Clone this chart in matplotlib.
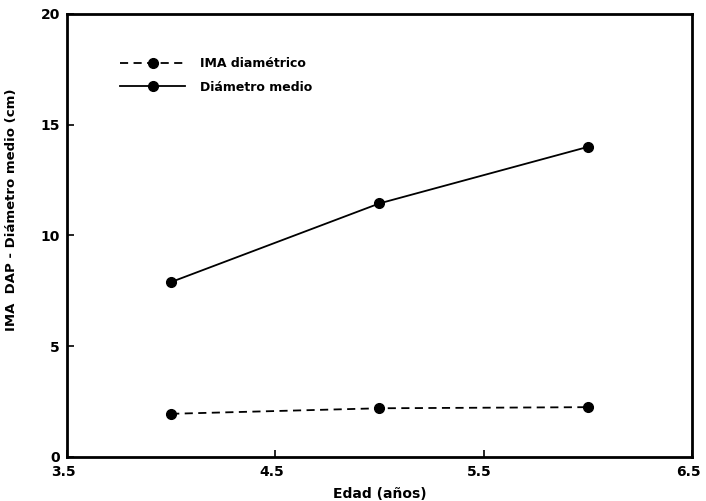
import matplotlib
matplotlib.use("Agg")
import matplotlib.pyplot as plt
import matplotlib.transforms as mtransforms

edad = [4, 5, 6]
ima_diametrico = [1.95, 2.2, 2.25]
diametro_medio = [7.9, 11.45, 14.0]
xticks = [3.5, 4.5, 5.5, 6.5]
xticklabels = ["3.5", "4.5", "5.5", "6.5"]
yticks = [0, 5, 10, 15, 20]
yticklabels = ["0", "5", "10", "15", "20"]

fig = plt.figure(figsize=(7.06, 5.01), dpi=100)
ax = fig.add_axes([67 / 706, 44 / 501, 625 / 706, 443 / 501])

ax.plot(edad, ima_diametrico, color="black", linestyle=(0, (4.5, 3)), linewidth=1.3,
        marker="o", markersize=7, label="IMA diamétrico")
ax.plot(edad, diametro_medio, color="black", linestyle="-", linewidth=1.3,
        marker="o", markersize=7, label="Diámetro medio")

ax.set_xlim(3.5, 6.5)
ax.set_ylim(0, 20)
ax.set_xticks(xticks)
ax.set_xticklabels(xticklabels, fontweight="bold", fontsize=10)
ax.set_yticks(yticks)
ax.set_yticklabels(yticklabels, fontweight="bold", fontsize=10)
ax.tick_params(axis="both", direction="in", length=5, width=1.2)
ax.tick_params(axis="x", pad=6)
ax.tick_params(axis="y", pad=5)
offset = mtransforms.ScaledTranslation(-4 / 100, 0, fig.dpi_scale_trans)
for lbl in ax.get_xticklabels():
    lbl.set_transform(lbl.get_transform() + offset)
for s in ax.spines.values():
    s.set_linewidth(2)

ax.set_xlabel("Edad (años)", fontweight="bold", fontsize=10)
ax.xaxis.set_label_coords(0.5, -0.068)
ax.set_ylabel("IMA  DAP - Diámetro medio (cm)", fontweight="bold", fontsize=9.5)
ax.yaxis.set_label_coords(-0.078, 0.558)

leg = ax.legend(loc="upper left", bbox_to_anchor=(120 / 706, 1 - 57 / 501),
                bbox_transform=fig.transFigure, frameon=False,
                borderpad=0, borderaxespad=0,
                handlelength=5.2, handletextpad=1.2, labelspacing=0.85,
                prop={"weight": "bold", "size": 9})

fig.savefig("out.png", dpi=100)
